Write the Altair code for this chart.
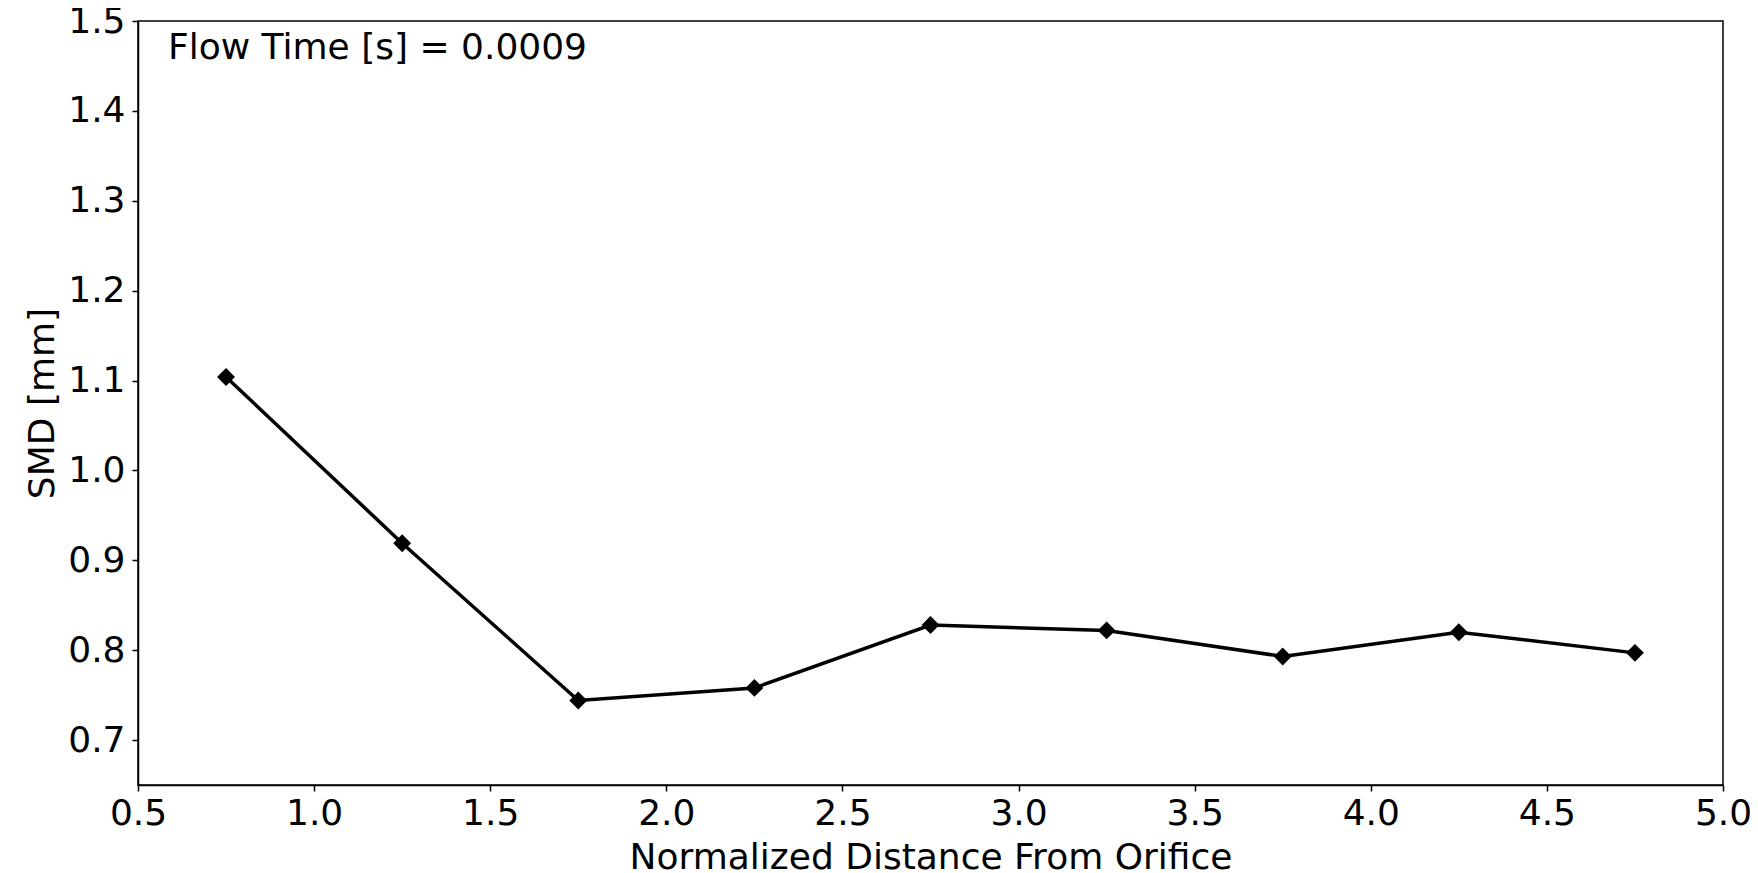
import altair as alt
import pandas as pd

# Data
distance = [0.75, 1.25, 1.75, 2.25, 2.75, 3.25, 3.75, 4.25, 4.75]
smd = [1.104, 0.919, 0.744, 0.758, 0.828, 0.822, 0.793, 0.820, 0.797]
x_ticks = [0.5, 1.0, 1.5, 2.0, 2.5, 3.0, 3.5, 4.0, 4.5, 5.0]
y_ticks = [0.7, 0.8, 0.9, 1.0, 1.1, 1.2, 1.3, 1.4, 1.5]
annotation = ["Flow Time [s] = 0.0009"]

df = pd.DataFrame({"x": distance, "y": smd})
ann = pd.DataFrame({"label": annotation})

FONT = "DejaVu Sans"
W, H = 1585, 764

x_enc = alt.X(
    "x:Q",
    scale=alt.Scale(domain=[0.5, 5.0], nice=False, zero=False),
    axis=alt.Axis(
        title="Normalized Distance From Orifice",
        values=x_ticks,
        format=".1f",
        labelFlush=False,
        labelOverlap=False,
        labelPadding=5,
        titleX=W / 2,
        titleY=83,
        titleBaseline="alphabetic",
        titleAnchor="middle",
    ),
)
y_enc = alt.Y(
    "y:Q",
    scale=alt.Scale(domain=[0.65, 1.5], nice=False, zero=False),
    axis=alt.Axis(
        title="SMD [mm]",
        values=y_ticks,
        format=".1f",
        labelFlush=False,
        labelOverlap=False,
        labelPadding=7,
        titleX=-85,
        titleY=H / 2,
        titleBaseline="alphabetic",
        titleAngle=270,
        titleAnchor="middle",
    ),
)

line = alt.Chart(df).mark_line(color="black", strokeWidth=3.5).encode(x=x_enc, y=y_enc)
pts = alt.Chart(df).mark_point(
    shape="diamond", filled=True, size=320, color="black", opacity=1
).encode(x=x_enc, y=y_enc)

text = alt.Chart(ann).mark_text(
    align="left", baseline="alphabetic", fontSize=36, font=FONT, color="black"
).encode(x=alt.value(30), y=alt.value(38), text="label:N")

chart = (
    alt.layer(line, pts, text)
    .properties(
        width=W,
        height=H,
        background="white",
        autosize=alt.AutoSizeParams(type="none"),
        padding={"left": 130, "top": 13, "right": 27, "bottom": 86},
    )
    .configure_view(stroke="black", strokeWidth=1.5)
    .configure_axis(
        grid=False,
        domainColor="black",
        domainWidth=1.5,
        tickColor="black",
        tickWidth=1.5,
        tickSize=6,
        labelFont=FONT,
        labelFontSize=36,
        labelColor="black",
        titleFont=FONT,
        titleFontSize=36,
        titleFontWeight="normal",
        titleColor="black",
    )
)

chart.save("out.html", embed_options={"renderer": "svg", "actions": False})
